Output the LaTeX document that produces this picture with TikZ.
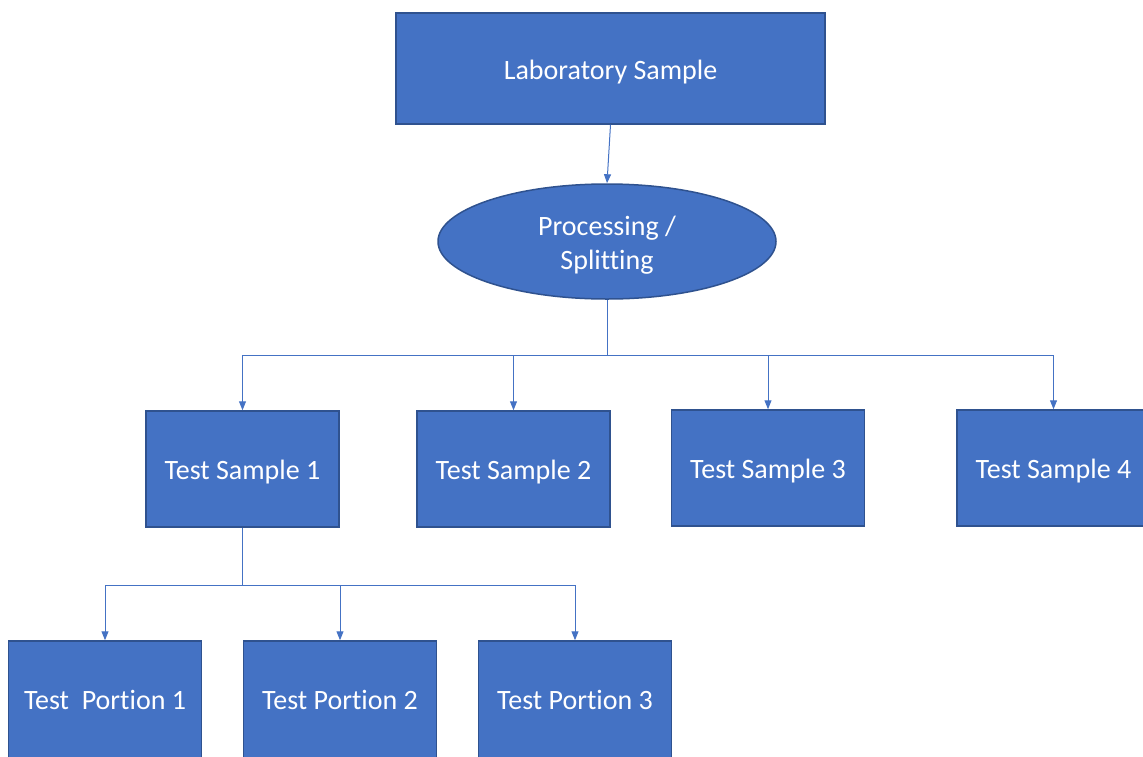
\documentclass[tikz,border=0pt]{standalone}
\usepackage{fontspec}
\setmainfont{Carlito}[Ligatures={NoCommon}]
\usetikzlibrary{arrows.meta,shapes.geometric}
\definecolor{boxfill}{HTML}{4472C4}
\definecolor{boxline}{HTML}{2F528F}
\definecolor{conn}{HTML}{4472C4}
\tikzset{
  base/.style={fill=boxfill, draw=boxline, line width=1.5pt, text=white, inner sep=0pt,
    font=\fontsize{28}{34}\selectfont, align=center, text height=27pt, text depth=6pt},
  box/.style={base, rectangle, minimum width=193pt, minimum height=116pt},
  lowbox/.style={box, minimum height=130pt, text height=20pt, text depth=14pt},
  oval/.style={base, ellipse, minimum width=338pt, minimum height=115pt, text height=61pt, text depth=6pt},
  conn/.style={draw=conn, line width=1pt},
  arr/.style={conn, -{Triangle[length=9pt,width=7pt]}}
}
\begin{document}
\begin{tikzpicture}[x=1pt,y=-1pt]
\useasboundingbox (0,0) rectangle (1143,756);
\clip (0,0) rectangle (1143,756);
\node[base, rectangle, minimum width=429pt, minimum height=111pt] (lab) at (610.5,68.5) {Laboratory Sample};
\node[oval] (proc) at (607,241.5) {Processing /\\Splitting};
\node[box] (ts1) at (242.5,469) {Test Sample 1};
\node[box] (ts2) at (513.5,469) {Test Sample 2};
\node[box] (ts3) at (768,468) {Test Sample 3};
\node[box] (ts4) at (1053.5,468) {Test Sample 4};
\node[lowbox] (tp1) at (105,706) {Test~ Portion 1};
\node[lowbox] (tp2) at (340,706) {Test Portion 2};
\node[lowbox] (tp3) at (575,706) {Test Portion 3};
\coordinate (hub) at (607,355);
\coordinate (hub2) at (242.5,585);
\draw[arr] (lab.south) -- (proc.north);
\draw[conn] (proc.south) -- (hub);
\foreach \t in {ts1,ts2,ts3,ts4} \draw[arr] (hub) -| (\t.north);
\draw[conn] (ts1.south) -- (hub2);
\foreach \t in {tp1,tp2,tp3} \draw[arr] (hub2) -| (\t.north);
\end{tikzpicture}
\end{document}
